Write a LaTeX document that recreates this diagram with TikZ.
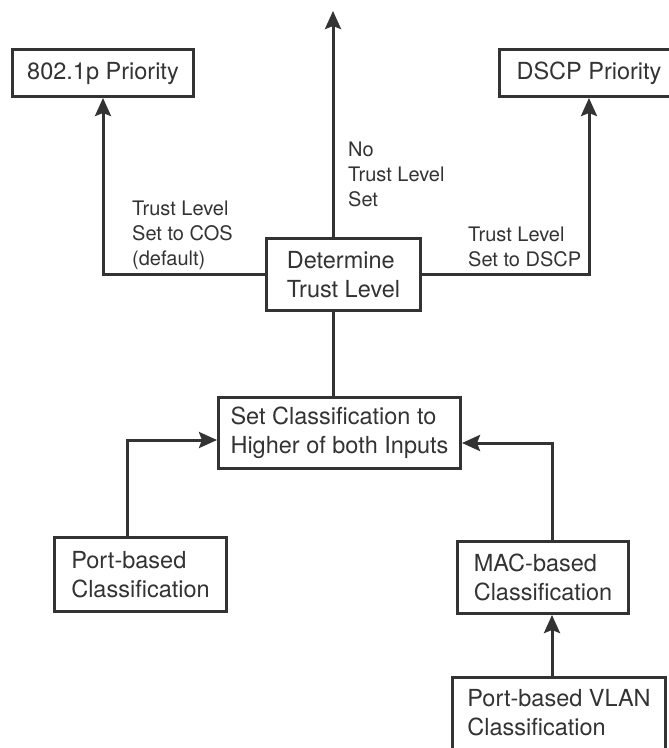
\documentclass[tikz,border=0pt]{standalone}
\usepackage{fontspec}
\setmainfont{TeX Gyre Heros}
\usetikzlibrary{arrows.meta,positioning}
\definecolor{ink}{HTML}{333333}

\begin{document}
\begin{tikzpicture}[
  x=1pt, y=-1pt,
  box/.style={draw=ink, line width=3pt, fill=white, text=ink, align=left, inner sep=0pt, font=\fontsize{23.5}{29}\selectfont},
  lbl/.style={anchor=north west, inner sep=0pt, align=left, text=ink, font=\fontsize{20}{25}\selectfont},
  arrow/.style={-{Stealth[length=18pt, width=16pt, inset=3pt]}, draw=ink, line width=3pt},
  link/.style={draw=ink, line width=3pt}
]
\useasboundingbox (0,0) rectangle (669,748);

% priority outputs
\node[box, minimum width=181pt, minimum height=47pt] (cos) at (103,73) {802.1p Priority};
\node[box, minimum width=180pt, minimum height=47pt] (dscp) at (589,73) {DSCP Priority};

% trust decision
\node[box, minimum width=154pt, minimum height=72pt] (det) at (343.5,274.5) {Determine\\Trust Level};
\node[box, minimum width=242pt, minimum height=71pt] (set) at (339.5,433) {Set Classification to\\Higher of both Inputs};

% classification inputs
\node[box, minimum width=172pt, minimum height=74pt] (port) at (140.5,574.5) {Port-based\\Classification};
\node[box, minimum width=171pt, minimum height=72pt] (mac) at (543,577.5) {MAC-based\\Classification};
\node[box, minimum width=213pt, minimum height=72pt] (vlan) at (559,713) {Port-based VLAN\\Classification};

\coordinate (top) at (333,11);
\coordinate (lbend) at (127,440);
\coordinate (rbend) at (552,443);

\draw[arrow] (det.north -| top) -- (top);
\draw[arrow] (det.west) -| (cos.south);
\draw[arrow] (det.east) -| (dscp.south);
\draw[link] (det.south -| top) -- (set.north -| top);
\draw[arrow] (port.north -| lbend) -- (lbend) -- (lbend -| set.west);
\draw[arrow] (mac.north -| rbend) -- (rbend) -- (rbend -| set.east);
\draw[arrow] (vlan.north -| rbend) -- (mac.south -| rbend);

\node[lbl] (coslbl) at (132,201) {Trust Level\\Set to COS\\(default)};
\node[lbl] (nolbl) at (348,142) {No\\Trust Level\\Set};
\node[lbl] (dscplbl) at (468,227) {Trust Level\\Set to DSCP};
\end{tikzpicture}
\end{document}
